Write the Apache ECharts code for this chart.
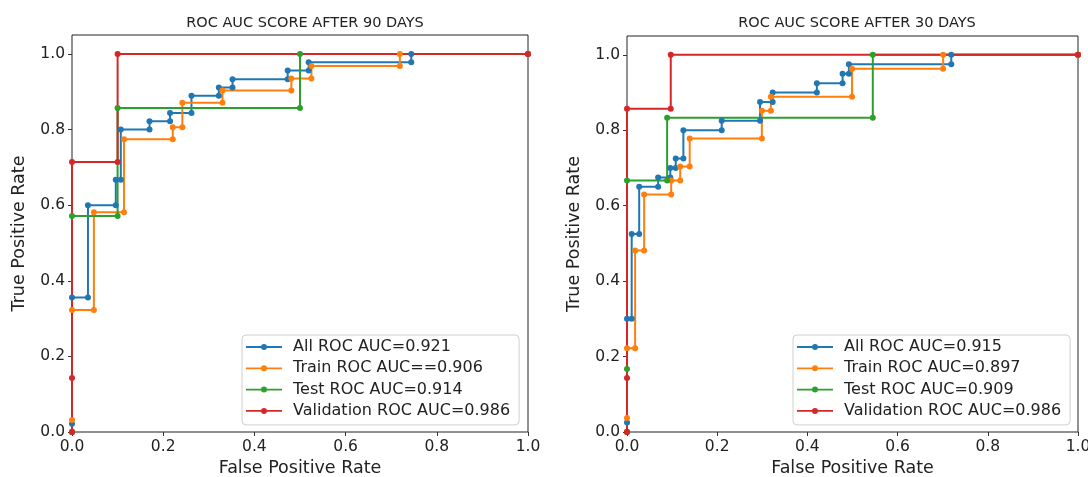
<!DOCTYPE html>
<html>
<head>
<meta charset="utf-8">
<script src="https://cdn.jsdelivr.net/npm/echarts@6/dist/echarts.min.js"></script>
<style>
html,body{margin:0;padding:0;background:#fff;}
#chart{width:1088px;height:477px;}
</style>
</head>
<body>
<div id="chart"></div>
<script>
// ---- Data ----
const titles = ['ROC AUC SCORE AFTER 90 DAYS', 'ROC AUC SCORE AFTER 30 DAYS'];
const tickValues = [0, 0.2, 0.4, 0.6, 0.8, 1.0];

const names90 = ['All ROC AUC=0.921', 'Train ROC AUC==0.906', 'Test ROC AUC=0.914', 'Validation ROC AUC=0.986'];
const allFpr90 = [0,0,0,0.035,0.035,0.096,0.096,0.107,0.107,0.170,0.170,0.215,0.215,0.262,0.262,0.322,0.322,0.352,0.352,0.473,0.473,0.519,0.519,0.744,0.744,1];
const allTpr90 = [0,0.022,0.356,0.356,0.6,0.6,0.667,0.667,0.8,0.8,0.822,0.822,0.844,0.844,0.889,0.889,0.911,0.911,0.933,0.933,0.956,0.956,0.978,0.978,1,1];
const trainFpr90 = [0,0,0,0.048,0.048,0.114,0.114,0.221,0.221,0.242,0.242,0.330,0.330,0.481,0.481,0.525,0.525,0.719,0.719,1];
const trainTpr90 = [0,0.032,0.323,0.323,0.581,0.581,0.774,0.774,0.806,0.806,0.871,0.871,0.903,0.903,0.935,0.935,0.968,0.968,1,1];
const testFpr90 = [0,0,0.1,0.1,0.5,0.5,1];
const testTpr90 = [0,0.571,0.571,0.857,0.857,1,1];
const valFpr90 = [0,0,0,0.1,0.1,1];
const valTpr90 = [0,0.143,0.714,0.714,1,1];

const names30 = ['All ROC AUC=0.915', 'Train ROC AUC=0.897', 'Test ROC AUC=0.909', 'Validation ROC AUC=0.986'];
const allFpr30 = [0,0,0,0.0104,0.0104,0.027,0.027,0.069,0.069,0.096,0.096,0.108,0.108,0.125,0.125,0.210,0.210,0.295,0.295,0.323,0.323,0.421,0.421,0.478,0.478,0.492,0.492,0.719,0.719,1];
const allTpr30 = [0,0.025,0.3,0.3,0.525,0.525,0.65,0.65,0.675,0.675,0.7,0.7,0.725,0.725,0.8,0.8,0.825,0.825,0.875,0.875,0.9,0.9,0.925,0.925,0.95,0.95,0.975,0.975,1,1];
const trainFpr30 = [0,0,0,0.018,0.018,0.038,0.038,0.098,0.098,0.118,0.118,0.139,0.139,0.299,0.299,0.319,0.319,0.499,0.499,0.701,0.701,1];
const trainTpr30 = [0,0.037,0.222,0.222,0.481,0.481,0.630,0.630,0.667,0.667,0.704,0.704,0.778,0.778,0.852,0.852,0.889,0.889,0.963,0.963,1,1];
const testFpr30 = [0,0,0,0.089,0.089,0.545,0.545,1];
const testTpr30 = [0,0.167,0.667,0.667,0.833,0.833,1,1];
const valFpr30 = [0,0,0,0.097,0.097,1];
const valTpr30 = [0,0.143,0.857,0.857,1,1];

const colors = ['#1f77b4', '#ff7f0e', '#2ca02c', '#d62728'];

// ---- Build ----
const zip = (xs, ys) => xs.map((x, i) => [x, ys[i]]);
const FONT = 'DejaVu Sans';
const txt = '#222';
// legend icon: line with a small dot (36 x 6 box)
const legendIcon = 'path://M0,2.1 H36 V3.9 H0 Z M21,3 A3,3 0 1,1 15,3 A3,3 0 1,1 21,3 Z';

function mkX(gi) {
  return {
    type: 'value', gridIndex: gi, min: 0, max: 1, interval: 0.2,
    name: 'False Positive Rate', nameLocation: 'middle', nameGap: 26,
    nameTextStyle: { fontFamily: FONT, fontSize: 17.5, color: txt },
    axisLine: { show: false },
    axisTick: { show: true, length: 4, inside: false, lineStyle: { color: '#333' } },
    axisLabel: { fontFamily: FONT, fontSize: 15.5, color: txt, margin: 7,
      formatter: v => v.toFixed(1) },
    splitLine: { show: false }
  };
}
function mkY(gi) {
  return {
    type: 'value', gridIndex: gi, min: 0, max: 1.05, interval: 0.2,
    name: 'True Positive Rate', nameLocation: 'middle', nameGap: 44,
    nameTextStyle: { fontFamily: FONT, fontSize: 17.5, color: txt },
    axisLine: { show: false },
    axisTick: { show: true, length: 4, inside: false, customValues: tickValues, lineStyle: { color: '#333' } },
    axisLabel: { fontFamily: FONT, fontSize: 15.5, color: txt, margin: 7, customValues: tickValues,
      formatter: v => (Math.abs(v * 5 - Math.round(v * 5)) < 1e-6 ? v.toFixed(1) : '') },
    splitLine: { show: false }
  };
}
function mkSeries(name, xs, ys, color, gi) {
  return {
    type: 'line', name: name, xAxisIndex: gi, yAxisIndex: gi,
    data: zip(xs, ys), symbol: 'circle', symbolSize: 6, showSymbol: true,
    lineStyle: { width: 2, color: color }, itemStyle: { color: color },
    emphasis: { disabled: true }, clip: false
  };
}
function mkLegend(names, left) {
  return {
    orient: 'vertical', left: left, top: 335, data: names,
    icon: legendIcon,
    itemWidth: 36, itemHeight: 6, itemGap: 5.3,
    padding: [4, 9, 6, 4],
    backgroundColor: '#fff', borderColor: '#d0d0d0', borderWidth: 1, borderRadius: 4,
    textStyle: { fontFamily: FONT, fontSize: 16, lineHeight: 16, color: txt, padding: [0, 0, 0, 6] },
    selectedMode: false
  };
}

const option = {
  animation: false,
  backgroundColor: '#fff',
  title: [
    { text: titles[0], left: 300, top: 11, textAlign: 'center', textStyle: { fontFamily: FONT, fontSize: 14.5, fontWeight: 'normal', color: txt } },
    { text: titles[1], left: 852, top: 11, textAlign: 'center', textStyle: { fontFamily: FONT, fontSize: 14.5, fontWeight: 'normal', color: txt } }
  ],
  grid: [
    { left: 72, right: 560, top: 35, bottom: 45, outerBoundsMode: 'none', containLabel: false, show: true, borderColor: '#222', borderWidth: 1, backgroundColor: 'transparent' },
    { left: 627, right: 10, top: 36, bottom: 45, outerBoundsMode: 'none', containLabel: false, show: true, borderColor: '#222', borderWidth: 1, backgroundColor: 'transparent' }
  ],
  xAxis: [mkX(0), mkX(1)],
  yAxis: [mkY(0), mkY(1)],
  legend: [mkLegend(names90, 242), mkLegend(names30, 793)],
  series: [
    mkSeries(names90[0], allFpr90, allTpr90, colors[0], 0),
    mkSeries(names90[1], trainFpr90, trainTpr90, colors[1], 0),
    mkSeries(names90[2], testFpr90, testTpr90, colors[2], 0),
    mkSeries(names90[3], valFpr90, valTpr90, colors[3], 0),
    mkSeries(names30[0], allFpr30, allTpr30, colors[0], 1),
    mkSeries(names30[1], trainFpr30, trainTpr30, colors[1], 1),
    mkSeries(names30[2], testFpr30, testTpr30, colors[2], 1),
    mkSeries(names30[3], valFpr30, valTpr30, colors[3], 1)
  ]
};

const chart = echarts.init(document.getElementById('chart'), null, { renderer: 'canvas' });
chart.setOption(option);
</script>
</body>
</html>
